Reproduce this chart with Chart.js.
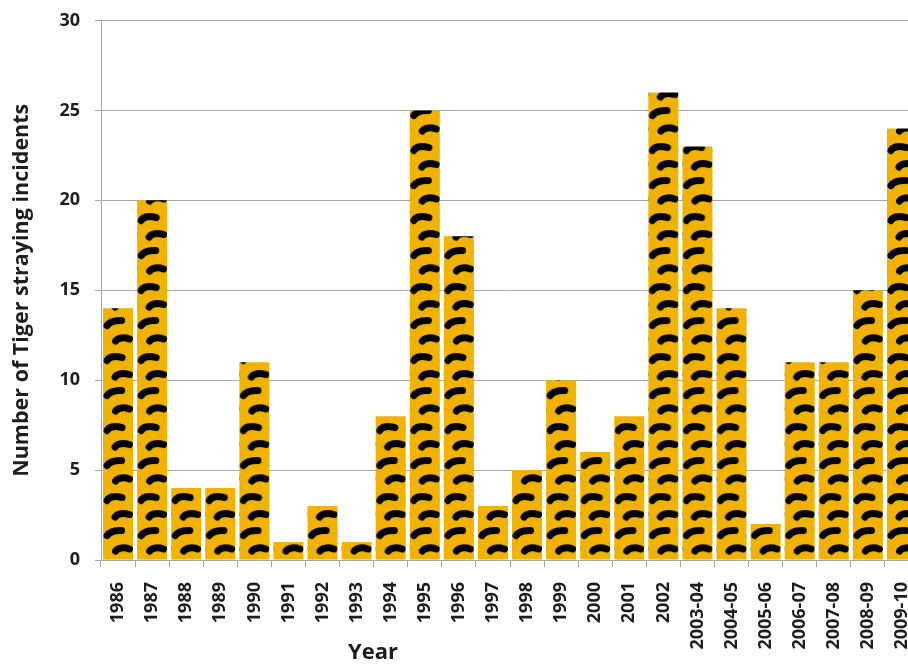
<!DOCTYPE html>
<html>
<head>
<meta charset="utf-8">
<script src="https://cdn.jsdelivr.net/npm/chart.js@4.4.1/dist/chart.umd.min.js"></script>
<style>
  html, body { margin: 0; padding: 0; background: #fff; overflow: hidden; width: 908px; height: 665px; }
  #wrap { width: 925px; height: 665px; }
</style>
</head>
<body>
<div id="wrap"><canvas id="c" width="925" height="665"></canvas></div>
<script>
// Tiger straying incidents per year
const years = ['1986', '1987', '1988', '1989', '1990', '1991', '1992', '1993', '1994', '1995',
  '1996', '1997', '1998', '1999', '2000', '2001', '2002', '2003-04', '2004-05', '2005-06',
  '2006-07', '2007-08', '2008-09', '2009-10'];
const incidents = [14, 20, 4, 4, 11, 1, 3, 1, 8, 25, 18, 3, 5, 10, 6, 8, 26, 23, 14, 2, 11, 11, 15, 24];
const yTickValues = [0, 5, 10, 15, 20, 25, 30];
const xTitle = 'Year';
const yTitle = 'Number of Tiger straying incidents';

const FONT = '"Open Sans", "DejaVu Sans", sans-serif';
const TEXT = '#1e1e1e';
const GRID = '#a8a8a8';
const GOLD = '#F2B200';
const BAR_PCT = 0.88;

// One tile of tiger stripes: four thick, slightly arched dashes,
// alternating between the left and right side of the bar
function makeStripeTile() {
  const w = 30, h = 70;
  const t = document.createElement('canvas');
  t.width = w; t.height = h;
  const g = t.getContext('2d');
  g.fillStyle = GOLD;
  g.fillRect(0, 0, w, h);
  g.strokeStyle = '#000';
  g.lineWidth = 7;
  g.lineCap = 'round';
  g.lineJoin = 'round';
  const dash = (x0, y0, c1x, c1y, c2x, c2y, x1, y1) => {
    g.beginPath(); g.moveTo(x0, y0); g.bezierCurveTo(c1x, c1y, c2x, c2y, x1, y1); g.stroke();
  };
  dash(4, 10.5, 6, 6.5, 12, 5.5, 19, 7.5);
  dash(12, 27, 14, 23.5, 20, 22.5, 26.5, 24.5);
  dash(4, 45.5, 7, 41, 12, 40, 18.5, 40.5);
  dash(12.5, 61, 15, 57.5, 21, 57, 26.5, 59);
  return t;
}

// Horizontal axis title, placed left of centre under the categories
const xTitlePlugin = {
  id: 'xTitle',
  afterDraw(chart) {
    const { ctx, chartArea } = chart;
    ctx.save();
    ctx.font = 'bold 22px ' + FONT;
    ctx.fillStyle = TEXT;
    ctx.textAlign = 'center';
    ctx.textBaseline = 'alphabetic';
    ctx.fillText(xTitle, chartArea.left + 272, chartArea.bottom + 99);
    ctx.restore();
  }
};

function draw() {
  const tile = makeStripeTile();
  const canvas = document.getElementById('c');
  const ctx2d = canvas.getContext('2d');

  // Each bar gets its own pattern, anchored to the bar's left/bottom corner
  function stripeFill(context) {
    const chart = context.chart;
    const xs = chart.scales.x, ys = chart.scales.y;
    if (!xs || !ys || context.dataIndex === undefined) return GOLD;
    const pat = ctx2d.createPattern(tile, 'repeat');
    const cw = xs.width / years.length;
    const left = xs.getPixelForValue(context.dataIndex) - cw * BAR_PCT / 2;
    const bottom = ys.getPixelForValue(0);
    pat.setTransform(new DOMMatrix([1, 0, 0, 1, left, bottom]));
    return pat;
  }

  new Chart(canvas, {
    type: 'bar',
    data: {
      labels: years,
      datasets: [{
        data: incidents,
        backgroundColor: stripeFill,
        borderWidth: 0,
        barPercentage: BAR_PCT,
        categoryPercentage: 1.0
      }]
    },
    plugins: [xTitlePlugin],
    options: {
      responsive: false,
      animation: false,
      layout: { padding: { top: 20.5, right: 6, bottom: 0, left: 0 } },
      plugins: { legend: { display: false }, tooltip: { enabled: false } },
      scales: {
        x: {
          grid: { offset: true, drawOnChartArea: false, drawTicks: true, tickLength: 7, color: GRID },
          border: { color: GRID, width: 1 },
          ticks: {
            autoSkip: false, minRotation: 90, maxRotation: 90, padding: 15,
            color: TEXT, font: { family: FONT, size: 18, weight: 'bold' }
          },
          afterFit: (s) => { s.height = 105; s.paddingLeft = 0; s.paddingRight = 0; }
        },
        y: {
          min: 0, max: 30,
          afterBuildTicks: (s) => { s.ticks = yTickValues.map(v => ({ value: v })); },
          grid: { color: GRID, tickLength: 6, lineWidth: 1 },
          border: { color: GRID, width: 1 },
          ticks: {
            padding: 15, color: TEXT,
            font: { family: FONT, size: 18, weight: 'bold' }
          },
          title: {
            display: true, text: yTitle, color: TEXT,
            font: { family: FONT, size: 21.5, weight: 'bold' }, padding: { top: 9, bottom: 0 }
          },
          afterFit: (s) => { s.width = 101; s.paddingTop = 0; s.paddingBottom = 0; }
        }
      }
    }
  });
}

document.fonts.load('bold 18px "Open Sans"').then(draw, draw);
</script>
</body>
</html>
